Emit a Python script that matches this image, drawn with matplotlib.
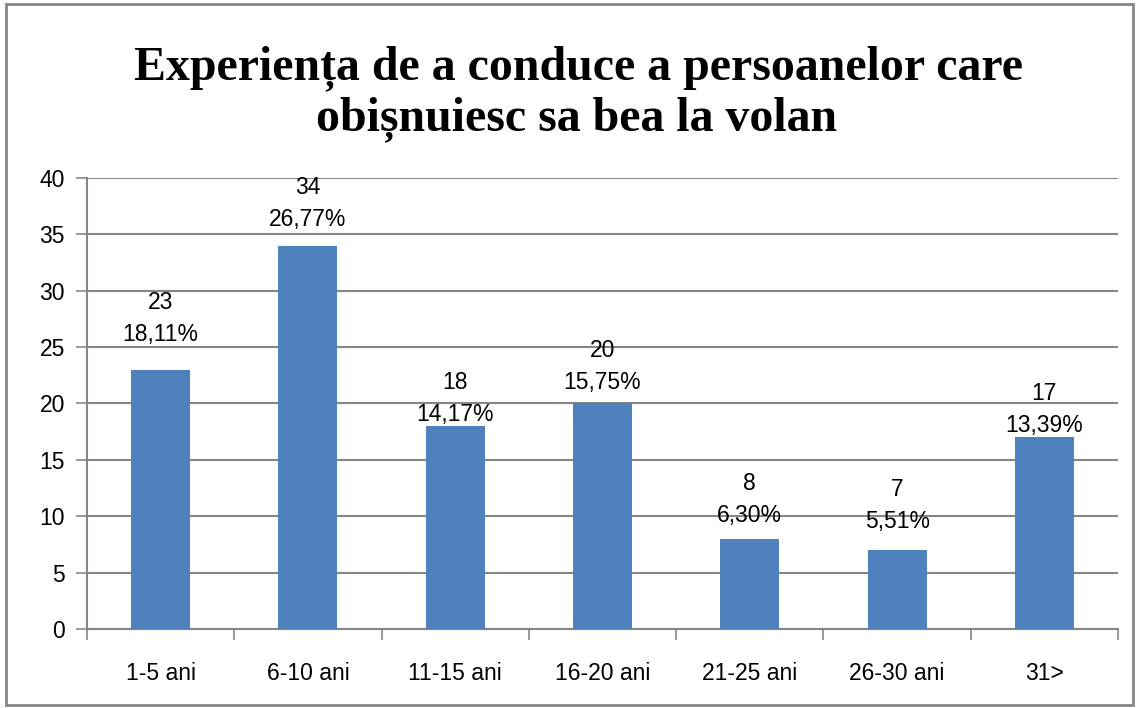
import numpy as np
from matplotlib import pyplot as plt
from matplotlib.patches import Rectangle

categories = ['1-5 ani', '6-10 ani', '11-15 ani', '16-20 ani', '21-25 ani', '26-30 ani', '31>']
counts = [23, 34, 18, 20, 8, 7, 17]
percents = ['18,11%', '26,77%', '14,17%', '15,75%', '6,30%', '5,51%', '13,39%']

# label gaps above the bars (points), placed by hand in the original
label_gap = [17, 10.5, 0, 6.5, 8.5, 12, 0]

plt.rcParams['font.family'] = ['Liberation Sans', 'DejaVu Sans']

fig = plt.figure(figsize=(11.39, 7.08), dpi=100)
ax = fig.add_axes([0.0764, 0.1116, 0.9052, 0.637])

x = np.arange(len(categories))
ax.bar(x, counts, width=0.4, color='#4F81BD', zorder=3)

for i in range(len(counts)):
    ax.annotate('{}\n{}'.format(counts[i], percents[i]), (x[i], counts[i]),
                xytext=(0, label_gap[i]), textcoords='offset points',
                ha='center', va='bottom', fontsize=16.5, linespacing=1.5, zorder=4)

ax.set_xlim(-0.5, len(categories) - 0.5)
ax.set_ylim(0, 40)
ax.set_yticks(range(0, 41, 5))
ax.yaxis.grid(True, color='#868686', linewidth=1.5, zorder=0)
ax.set_xticks(x)
ax.set_xticklabels(categories)
ax.set_xticks(np.arange(-0.5, len(categories), 1), minor=True)
ax.tick_params(axis='x', which='major', length=0, pad=24, labelsize=16.5)
ax.tick_params(axis='x', which='minor', length=8, width=1.2, color='#868686', direction='out')
ax.tick_params(axis='y', length=8, width=1.2, color='#868686', pad=8, labelsize=16.5)

for s in ['top', 'right']:
    ax.spines[s].set_visible(False)
for s in ['left', 'bottom']:
    ax.spines[s].set_color('#868686')
    ax.spines[s].set_linewidth(1.5)

title_font = dict(ha='center', va='baseline', fontsize=34.5, fontweight='bold',
                  family=['Liberation Serif', 'DejaVu Serif'])
fig.text(0.508, 0.8884, 'Experiența de a conduce a persoanelor care', **title_font)
fig.text(0.506, 0.8164, 'obișnuiesc sa bea la volan', **title_font)

fig.patches.append(Rectangle((0.005, 0.004), 0.99, 0.99, transform=fig.transFigure,
                             fill=False, edgecolor='#868686', linewidth=2))

fig.savefig('out.png', dpi=100)
